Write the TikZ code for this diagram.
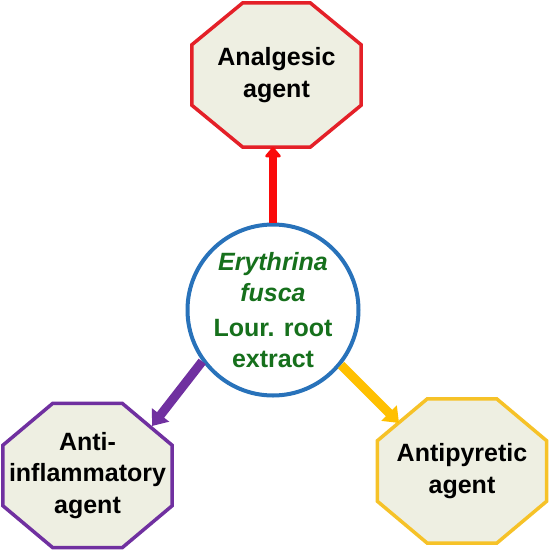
\documentclass[tikz,border=0pt]{standalone}
\usepackage{fontspec}
\setmainfont{Liberation Sans}
\usetikzlibrary{arrows.meta,calc,backgrounds}
\definecolor{octfill}{RGB}{238,239,226}
\definecolor{ored}{RGB}{228,32,40}
\definecolor{ared}{RGB}{250,10,10}
\definecolor{opurple}{RGB}{112,48,160}
\definecolor{oyellow}{RGB}{246,194,40}
\definecolor{ayellow}{RGB}{255,192,0}
\definecolor{cblue}{RGB}{40,114,186}
\definecolor{tgreen}{RGB}{22,112,28}
\newcommand\octshape[4]{% node, colour, xchamfer, ychamfer
  \draw[line width=3.5pt, draw=#2, fill=octfill, line join=miter]
    ($(#1.north west)+(#3,0)$) -- ($(#1.north east)+(-#3,0)$)
    -- ($(#1.north east)+(0,#4)$) -- ($(#1.south east)+(0,-#4)$)
    -- ($(#1.south east)+(-#3,0)$) -- ($(#1.south west)+(#3,0)$)
    -- ($(#1.south west)+(0,-#4)$) -- ($(#1.north west)+(0,#4)$) -- cycle;}
\begin{document}
\begin{tikzpicture}[x=1pt,y=-1pt,
  oct/.style={rectangle, draw=none, minimum width=169pt, minimum height=144pt,
    inner sep=0pt, align=center, font=\fontsize{25}{31.5}\selectfont\bfseries},
  hub/.style={circle, draw=cblue, line width=4pt, fill=white, minimum size=171pt,
    inner sep=0pt, align=center, text=tgreen, font=\fontsize{25}{31}\selectfont\bfseries},
  redarrow/.style={draw=ared, line width=8pt, -{Triangle[width=18pt,length=11pt,round]}},
  purparrow/.style={draw=opurple, line width=9pt, -{Triangle[width=21pt,length=14pt]}},
  yelarrow/.style={draw=ayellow, line width=9pt, -{Triangle[width=21pt,length=14pt]}}]
\useasboundingbox (0,0) rectangle (550,550);
\node[oct] (top) at (276.5,75) {Analgesic\\agent};
\node[oct] (left) at (87.5,475.5) {Anti-\\inflammatory\\agent};
\node[oct] (right) at (462,471) {Antipyretic\\agent};
\begin{pgfonlayer}{background}
  \fill[white] (0,0) rectangle (550,550);
  \octshape{top}{ored}{51}{42}
  \octshape{left}{opurple}{50}{42}
  \octshape{right}{oyellow}{50}{42}
\end{pgfonlayer}
\node[hub] (c) at (273,310) {\textit{Erythrina}\\\textit{fusca}\\[4pt]Lour. root\\extract};
\coordinate (tipL) at (152,426);
\coordinate (tipR) at (399,423);
\draw[redarrow] (c.north) -- (c.north |- top.south);
\draw[purparrow] (c.216) -- (tipL);
\draw[yelarrow] (c.321) -- (tipR);
\end{tikzpicture}
\end{document}
